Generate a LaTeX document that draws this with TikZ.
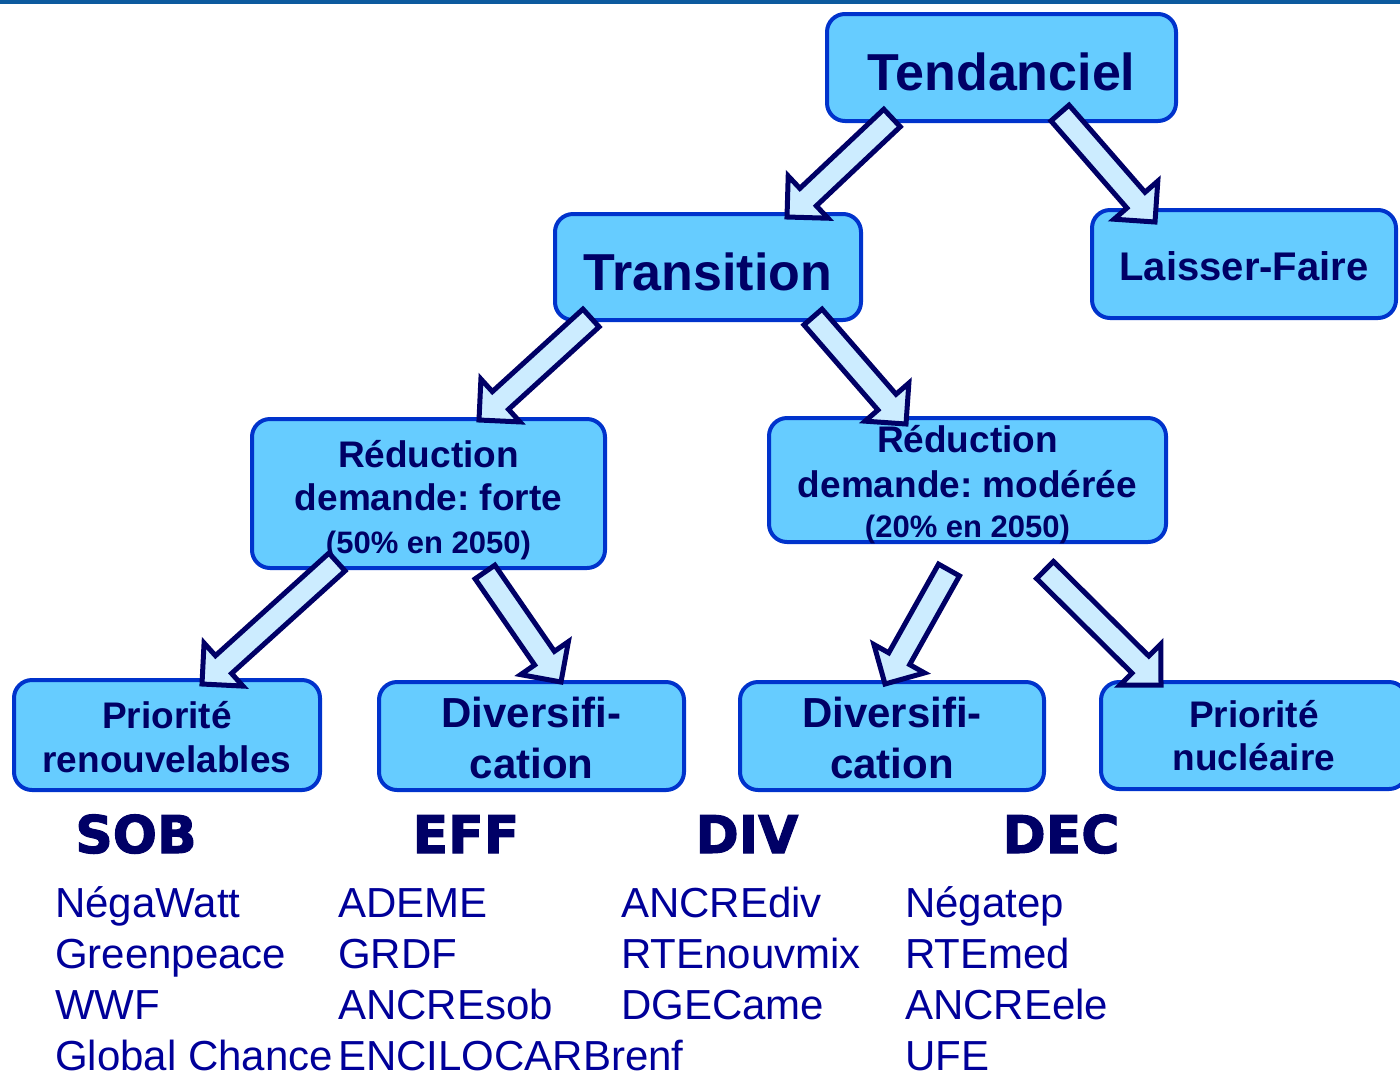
\documentclass[tikz,border=0pt]{standalone}
\usepackage{fontspec}
\setmainfont{Liberation Sans}
\newfontfamily\hdrfont{DejaVu Sans Bold}[FakeBold=2]
\usetikzlibrary{calc}
\definecolor{boxfill}{HTML}{66CCFF}
\definecolor{boxline}{HTML}{0033CC}
\definecolor{navy}{HTML}{000066}
\definecolor{listc}{HTML}{000099}
\definecolor{arrfill}{HTML}{CCECFF}
\definecolor{topbar}{HTML}{0D5A9E}
\newcommand\blockarr[2]{%
  \coordinate (hb) at ($(#2)!29pt!(#1)$);
  \draw[blockar] ($(#1)!12pt!90:(#2)$) -- ($(hb)!12pt!90:(#2)$) -- ($(hb)!29pt!90:(#2)$) -- (#2)
    -- ($(hb)!29pt!-90:(#2)$) -- ($(hb)!12pt!-90:(#2)$) -- ($(#1)!12pt!-90:(#2)$) -- cycle;}
\begin{document}
\frenchspacing
\begin{tikzpicture}[x=1pt,y=-1pt,
  box/.style={draw=boxline, line width=4pt, fill=boxfill, rounded corners=18pt, inner sep=0pt, text=navy, align=flush center},
  blockar/.style={draw=navy, line width=5pt, fill=arrfill, line join=miter},
  hdr/.style={anchor=base, text=navy, font=\hdrfont\fontsize{52}{62}\selectfont, inner sep=0pt},
  lst/.style={anchor=base west, text=listc, inner sep=0pt, text width=360pt, align=flush left, font=\fontsize{42}{51}\selectfont}]
\useasboundingbox (0,0) rectangle (1400,1072);
\fill[topbar] (0,0) rectangle (1400,4);

\node[box, minimum width=349pt, minimum height=107pt, text width=340pt, text height=46pt, text depth=1pt,
  font=\bfseries\fontsize{52}{62}\selectfont] (tend) at (1001.5,67.5) {Tendanciel};
\node[box, minimum width=306pt, minimum height=106pt, text width=300pt, text height=46pt, text depth=0pt,
  font=\bfseries\fontsize{52}{62}\selectfont] (trans) at (708,267) {Transition};
\node[box, minimum width=304pt, minimum height=108pt, text width=296pt, text height=32pt, text depth=0pt,
  font=\bfseries\fontsize{40}{48}\selectfont] (laisser) at (1244,264) {Laisser-Faire};
\node[box, minimum width=353pt, minimum height=149pt, text width=345pt, text height=34pt, text depth=87pt,
  font=\bfseries\fontsize{37}{43}\selectfont] (redf) at (428.5,493.5)
  {Réduction\\demande: forte\\{\fontsize{31}{43}\selectfont (50\% en 2050)}};
\node[box, minimum width=397pt, minimum height=122pt, text width=390pt, text height=34pt, text depth=90pt,
  font=\bfseries\fontsize{37}{43}\selectfont] (redm) at (967.5,480)
  {Réduction\\[2pt]demande: modérée\\[-3pt]{\fontsize{31}{43}\selectfont (20\% en 2050)}};
\node[box, minimum width=306pt, minimum height=110pt, text width=300pt, text height=30pt, text depth=44pt,
  font=\bfseries\fontsize{37}{44}\selectfont] (prio1) at (167,735) {Priorité\\renouvelables};
\node[box, minimum width=305pt, minimum height=108pt, text width=300pt, text height=32pt, text depth=50pt,
  font=\bfseries\fontsize{42}{51}\selectfont] (div1) at (531.5,736) {Diversifi-\\cation};
\node[box, minimum width=304pt, minimum height=108pt, text width=300pt, text height=32pt, text depth=50pt,
  font=\bfseries\fontsize{42}{51}\selectfont] (div2) at (892,736) {Diversifi-\\cation};
\node[box, minimum width=306pt, minimum height=107pt, text width=300pt, text height=30pt, text depth=47pt,
  font=\bfseries\fontsize{37}{43}\selectfont] (prio2) at (1254,735.5) {Priorité\\nucléaire};

\coordinate (a1t) at (892,118);  \coordinate (a1h) at (787,217);
\coordinate (a2t) at (1060,113); \coordinate (a2h) at (1155,222);
\coordinate (a3t) at (591,318);  \coordinate (a3h) at (479,420);
\coordinate (a4t) at (813,317);  \coordinate (a4h) at (906,424);
\coordinate (a5t) at (337,562);  \coordinate (a5h) at (202,684);
\coordinate (a6t) at (485,572);  \coordinate (a6h) at (561,682);
\coordinate (a7t) at (949,570);  \coordinate (a7h) at (885,684);
\coordinate (a8t) at (1045,570); \coordinate (a8h) at (1161,685);
\blockarr{a1t}{a1h}
\blockarr{a2t}{a2h}
\blockarr{a3t}{a3h}
\blockarr{a4t}{a4h}
\blockarr{a5t}{a5h}
\blockarr{a6t}{a6h}
\blockarr{a7t}{a7h}
\blockarr{a8t}{a8h}

\node[hdr] (sob) at (136,853) {SOB};
\node[hdr] (eff) at (466,853) {EFF};
\node[hdr] (div) at (747,853) {DIV};
\node[hdr] (dec) at (1061,853) {DEC};

\node[lst] (l1) at (55,917) {NégaWatt\\Greenpeace\\WWF\\Global Chance};
\node[lst] (l2) at (338,917) {ADEME\\GRDF\\ANCREsob\\ENCILOCARBrenf};
\node[lst] (l3) at (621,917) {ANCREdiv\\RTEnouvmix\\DGECame};
\node[lst] (l4) at (905,917) {Négatep\\RTEmed\\ANCREele\\UFE};
\end{tikzpicture}
\end{document}
